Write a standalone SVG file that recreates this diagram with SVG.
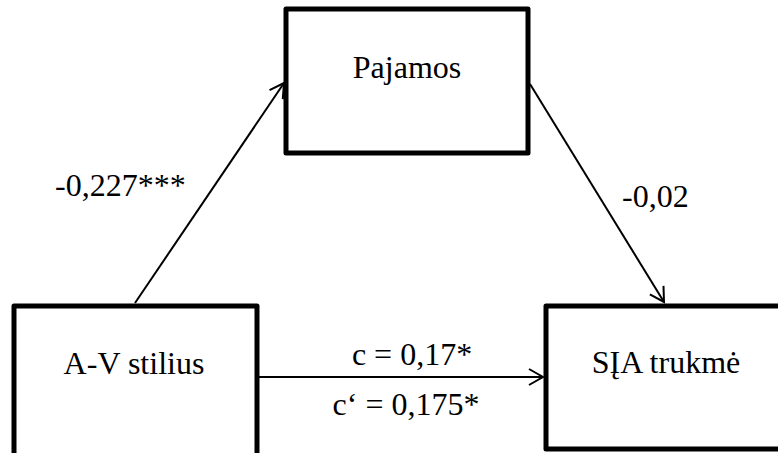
<svg xmlns="http://www.w3.org/2000/svg" width="778" height="453" viewBox="0 0 778 453">
<style>
.box{fill:#fff;stroke:#000;stroke-width:5;stroke-linejoin:round}
.lbl{font-size:32px;fill:#000}
.edge{stroke:#000;stroke-width:2;fill:none;marker-end:url(#arr)}
</style>
<defs>
<marker id="arr" markerUnits="userSpaceOnUse" markerWidth="20" markerHeight="20" viewBox="0 0 20 20" refX="17" refY="10" orient="auto">
<path d="M3,2 L17,10 L3,18" fill="none" stroke="#000" stroke-width="2"/>
</marker>
</defs>
<rect width="778" height="453" fill="#fff"/>
<g font-family="'Liberation Serif', 'Times New Roman', Times, serif">
<g id="connectors">
<line class="edge" x1="135" y1="303" x2="284" y2="83"/>
<line class="edge" x1="530" y1="84" x2="664" y2="302"/>
<line class="edge" x1="259" y1="377" x2="543" y2="377"/>
<text class="lbl" x="55" y="196">-0,227***</text>
<text class="lbl" x="622" y="207">-0,02</text>
<text class="lbl" x="412" y="365" text-anchor="middle">c = 0,17*</text>
<text class="lbl" x="406" y="415" text-anchor="middle">c‘ = 0,175*</text>
</g>
<g id="node-pajamos">
<rect class="box" x="286" y="9" width="242" height="144"/>
<text class="lbl" x="407" y="78" text-anchor="middle">Pajamos</text>
</g>
<g id="node-av">
<rect class="box" x="14" y="306" width="243" height="160"/>
<text class="lbl" x="134" y="374" text-anchor="middle">A-V stilius</text>
</g>
<g id="node-sia">
<rect class="box" x="546" y="306" width="250" height="143"/>
<text class="lbl" x="666" y="373" text-anchor="middle">SĮA trukmė</text>
</g>
</g>
</svg>
